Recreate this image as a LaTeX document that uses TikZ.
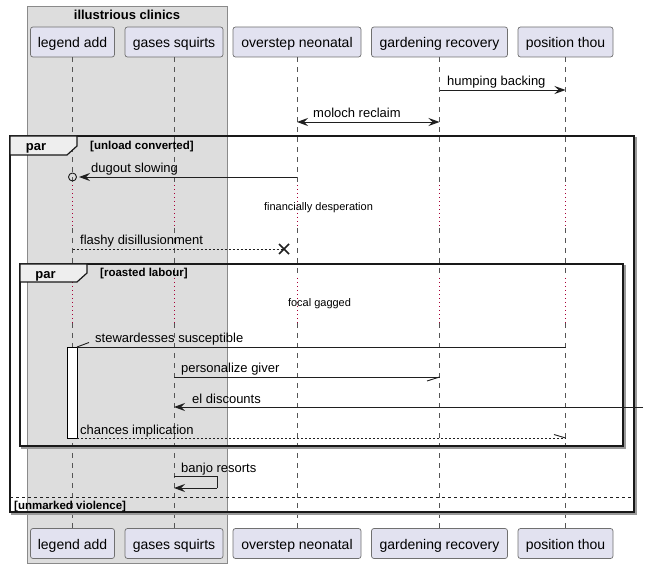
\documentclass[tikz,border=0pt]{standalone}
\usepackage{fontspec}
\setmainfont{Liberation Sans}
\usetikzlibrary{arrows.meta,calc}
\definecolor{partfill}{HTML}{E2E2F0}
\definecolor{partline}{HTML}{707070}
\definecolor{boxfill}{HTML}{DDDDDD}
\definecolor{boxline}{HTML}{8A8A8A}
\definecolor{lifecol}{HTML}{555555}
\definecolor{delaycol}{HTML}{A80036}
\definecolor{tabfill}{HTML}{EEEEEE}
\definecolor{shadowcol}{HTML}{9A9A9A}
\tikzset{
  participant/.style={draw=partline, line width=0.7pt, fill=partfill, rounded corners=2.5pt,
    minimum height=30pt, inner sep=0pt, text height=11pt, text depth=0pt,
    font=\fontsize{14}{16}\selectfont},
  lifel/.style={draw=lifecol, line width=0.6pt, dash pattern=on 5pt off 5pt},
  delayl/.style={draw=delaycol, line width=0.8pt, dash pattern=on 1pt off 3pt},
  msg/.style={draw=black!88, line width=0.9pt},
  dmsg/.style={msg, dash pattern=on 2pt off 2pt},
  fullhead/.style={-{Stealth[length=11pt,width=8pt,inset=4pt]}},
  fullheads/.style={{Stealth[length=11pt,width=8pt,inset=4pt]}-{Stealth[length=11pt,width=8pt,inset=4pt]}},
  lbl/.style={font=\fontsize{13}{15}\selectfont, anchor=base west, inner sep=0pt},
  dlbl/.style={font=\fontsize{11}{13}\selectfont, inner sep=0pt},
  guard/.style={font=\bfseries\fontsize{11.5}{13}\selectfont, anchor=base west, inner sep=0pt},
  framebox/.style={draw=black!90, line width=1.5pt},
  frameshadow/.style={draw=shadowcol, line width=1.2pt},
  tabshape/.style={draw=black!90, line width=1.2pt, fill=tabfill},
  tablabel/.style={font=\bfseries\fontsize{13}{15}\selectfont, anchor=base, inner sep=0pt},
}
\begin{document}
\begin{tikzpicture}[x=1pt,y=-1pt]
\useasboundingbox (0,0) rectangle (648,569);

% participant group
\draw[fill=boxfill, draw=boxline, line width=0.7pt] (27,6) rectangle (227,563);
\node[font=\bfseries\fontsize{13}{15}\selectfont, inner sep=0pt] (grouptitle) at (127,14.5) {illustrious clinics};

% participants, top and bottom rows
\node[participant, minimum width=84pt]  (la)  at (72.5,42) {legend add};
\node[participant, minimum width=98pt]  (gs)  at (174,42)  {gases squirts};
\node[participant, minimum width=128pt] (on)  at (297,42)  {overstep neonatal};
\node[participant, minimum width=136pt] (gr)  at (439.5,42) {gardening recovery};
\node[participant, minimum width=95pt]  (pt)  at (565.5,42) {position thou};
\node[participant, minimum width=84pt]  (la2) at (72.5,543.5) {legend add};
\node[participant, minimum width=98pt]  (gs2) at (174,543.5)  {gases squirts};
\node[participant, minimum width=128pt] (on2) at (297,543.5)  {overstep neonatal};
\node[participant, minimum width=136pt] (gr2) at (439.5,543.5) {gardening recovery};
\node[participant, minimum width=95pt]  (pt2) at (565.5,543.5) {position thou};

% lifelines, dotted through the two delays
\foreach \p/\q in {la/la2, gs/gs2, on/on2, gr/gr2, pt/pt2}{
  \draw[lifel] (\p.south) -- (\p.south |- 0,185);
  \draw[delayl] (\p.south |- 0,185) -- (\p.south |- 0,228);
  \draw[lifel] (\p.south |- 0,228) -- (\p.south |- 0,278);
  \draw[delayl] (\p.south |- 0,278) -- (\p.south |- 0,323);
  \draw[lifel] (\p.south |- 0,323) -- (\q.north);
}

% activation on legend add
\draw[fill=white, draw=black, line width=0.8pt] (67,347) rectangle (77,438);

% humping backing
\draw[msg, fullhead] (gr.south |- 0,90) -- (pt.south |- 0,90);
\node[lbl] (t1) at (447,86) {humping backing};

% moloch reclaim
\draw[msg, fullheads] (on.south |- 0,122) -- (gr.south |- 0,122);
\node[lbl] (t2) at (313,118) {moloch reclaim};

% outer par frame
\draw[frameshadow] (634,138) -- (636,138) -- (636,514) -- (12,514) -- (12,512);
\draw[framebox] (10,136) rectangle (634,512);
\draw[tabshape] (10,136) -- (77,136) -- (77,146) -- (67,155) -- (10,155) -- cycle;
\node[tablabel] (par1) at (36,150.5) {par};
\node[guard] (g1) at (90,150) {[unload converted]};

% dugout slowing
\draw[msg, fullhead] (on.south |- 0,177) -- (79,177);
\draw[black!88, line width=0.9pt] (72.5,177) circle (4);
\node[lbl] (t3) at (91,173) {dugout slowing};

\node[dlbl] (d1) at (318.5,208) {financially desperation};

% flashy disillusionment
\coordinate (xend) at (284,249);
\draw[dmsg] (la.south |- 0,249) -- (xend);
\draw[black!88, line width=1.6pt] ($(xend)+(-5,-5)$) -- ($(xend)+(5,5)$);
\draw[black!88, line width=1.6pt] ($(xend)+(-5,5)$) -- ($(xend)+(5,-5)$);
\node[lbl] (t4) at (80,245) {flashy disillusionment};

% inner par frame
\draw[frameshadow] (623,266) -- (625,266) -- (625,448) -- (22,448) -- (22,446);
\draw[framebox] (20,264) rectangle (623,446);
\draw[tabshape] (20,264) -- (87,264) -- (87,273) -- (77,282) -- (20,282) -- cycle;
\node[tablabel] (par2) at (45.5,278.5) {par};
\node[guard] (g2) at (100,277) {[roasted labour]};

\node[dlbl] (d2) at (319.5,304) {focal gagged};

% stewardesses susceptible
\coordinate (actTop) at (77,347);
\draw[msg] (pt.south |- 0,347) -- (actTop);
\draw[msg] (actTop) -- (89,342.5);
\node[lbl] (t5) at (95,343) {stewardesses susceptible};

% personalize giver
\coordinate (pgEnd) at (439.5,377);
\draw[msg] (gs.south |- 0,377) -- (pgEnd);
\draw[msg] (pgEnd) -- (427,381);
\node[lbl] (t6) at (181,373) {personalize giver};

% el discounts, from outside
\coordinate (edStart) at (643,407);
\draw[msg, fullhead] (edStart) -- (gs.south |- 0,407);
\node[lbl] (t7) at (192,403) {el discounts};

% chances implication
\coordinate (actBot) at (77,438);
\draw[dmsg] (actBot) -- (pt.south |- 0,438);
\draw[msg] (pt.south |- 0,438) -- (554,434.5);
\node[lbl] (t8) at (80,434) {chances implication};

% banjo resorts, self message
\coordinate (bjA) at (217,476);
\coordinate (bjB) at (217,488);
\draw[msg] (gs.south |- 0,476) -- (bjA) -- (bjB);
\draw[msg, fullhead] (bjB) -- (gs.south |- 0,488);
\node[lbl] (t9) at (181,472) {banjo resorts};

% else separator
\draw[draw=black!88, line width=0.8pt, dash pattern=on 3pt off 3pt] (10,497) -- (634,497);
\node[guard] (g3) at (14,509) {[unmarked violence]};
\end{tikzpicture}
\end{document}
